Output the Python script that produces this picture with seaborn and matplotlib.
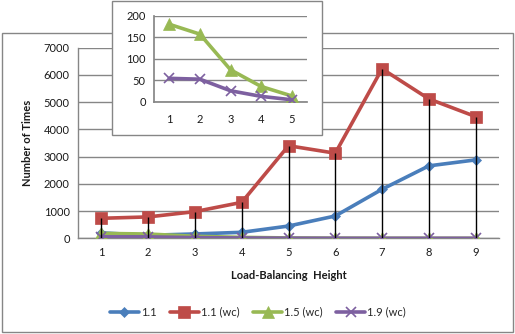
import matplotlib
matplotlib.use("Agg")
import matplotlib.pyplot as plt
import seaborn as sns
import pandas as pd
from matplotlib.patches import Rectangle

heights = [1, 2, 3, 4, 5, 6, 7, 8, 9]
s11 = [200, 110, 160, 220, 450, 820, 1800, 2660, 2880]
s11wc = [735, 785, 980, 1320, 3400, 3125, 6225, 5120, 4470]
s15wc = [180, 157, 74, 35, 13, 5, 2, 0, 0]
s19wc = [54, 52, 25, 12, 4, 1, 0, 0, 0]
series_names = ["1.1", "1.1 (wc)", "1.5 (wc)", "1.9 (wc)"]
inset_x = [1, 2, 3, 4, 5]
main_yticks = [0, 1000, 2000, 3000, 4000, 5000, 6000, 7000]
inset_yticks = [0, 50, 100, 150, 200]

colors = ["#4A7EBB", "#BE4B48", "#98B954", "#7D60A0"]
markers = ["D", "s", "^", "x"]
msizes = [5, 8, 8, 7]
grid_c = "#868686"
txt_c = "#1a1a1a"

sns.set_theme(style="white")
plt.rcParams["font.family"] = ["Lato", "DejaVu Sans"]

fig = plt.figure(figsize=(5.15, 3.34), dpi=100)
fig.patch.set_facecolor("white")
fig.patches.append(Rectangle((2/515, 1-332/334), 511/515, 299/334, transform=fig.transFigure,
                             facecolor="none", edgecolor=grid_c, lw=1, zorder=0.5))

ax = fig.add_axes([78/515, 1-238.3/334, 421/515, 190.6/334], zorder=0)
all_series = [s11, s11wc, s15wc, s19wc]
for vals, name, c, m, ms in zip(all_series, series_names, colors, markers, msizes):
    df = pd.DataFrame({"h": heights, "v": vals})
    sns.lineplot(data=df, x="h", y="v", ax=ax, color=c, marker=m, markersize=ms,
                 markeredgecolor=c, markeredgewidth=1.2 if m == "x" else 0.5,
                 linewidth=2.6, label=name, legend=False, zorder=3)
ax.vlines(heights, 0, s11wc, colors="black", linewidth=1, zorder=5)
ax.set_xlim(0.5, 9.5)
ax.set_ylim(0, 7000)
ax.set_xticks(heights)
ax.set_yticks(main_yticks)
ax.tick_params(axis="both", length=0, labelsize=8, colors=txt_c, pad=6)
ax.yaxis.grid(True, color=grid_c, lw=1)
ax.set_axisbelow(True)
for s in ["top", "right"]:
    ax.spines[s].set_visible(False)
for s in ["left", "bottom"]:
    ax.spines[s].set_color(grid_c)
    ax.spines[s].set_linewidth(1)
ax.set_xlabel("Load-Balancing  Height", fontsize=8, fontweight="bold", color=txt_c, labelpad=9)
ax.set_ylabel("Number of Times", fontsize=8, fontweight="bold", color=txt_c, labelpad=8)

handles, labels = ax.get_legend_handles_labels()
fig.legend(handles, labels, loc="center", bbox_to_anchor=(258/515, 1-312/334), ncol=4,
           frameon=False, fontsize=8, handlelength=2.6, columnspacing=1.2, handletextpad=0.2)

# inset frame
fig.patches.append(Rectangle((112/515, 1-135/334), 210/515, 134/334, transform=fig.transFigure,
                             facecolor="white", edgecolor=grid_c, lw=1, zorder=1))
ax2 = fig.add_axes([154/515, 1-101.5/334, 153/515, 85.8/334], zorder=2)
ax2.patch.set_alpha(0)
for vals, c, m, ms in zip([s15wc[:5], s19wc[:5]], colors[2:], markers[2:], msizes[2:]):
    df = pd.DataFrame({"h": inset_x, "v": vals})
    sns.lineplot(data=df, x="h", y="v", ax=ax2, color=c, marker=m, markersize=ms,
                 markeredgecolor=c, markeredgewidth=1.2 if m == "x" else 0.5,
                 linewidth=2.6, legend=False, zorder=3)
ax2.set_xlim(0.5, 5.5)
ax2.set_ylim(0, 200)
ax2.set_xticks(inset_x)
ax2.set_xticks([0.5 + i for i in range(6)], minor=True)
ax2.set_yticks(inset_yticks)
ax2.tick_params(axis="x", which="major", length=0, labelsize=8, colors=txt_c, pad=9)
ax2.tick_params(axis="x", which="minor", length=4, color=grid_c, direction="out")
ax2.tick_params(axis="y", length=0, labelsize=8, colors=txt_c, pad=6)
ax2.yaxis.grid(True, color=grid_c, lw=1)
ax2.set_axisbelow(True)
ax2.set_xlabel("")
ax2.set_ylabel("")
for s in ["top", "right"]:
    ax2.spines[s].set_visible(False)
for s in ["left", "bottom"]:
    ax2.spines[s].set_color(grid_c)

fig.savefig("out.png", dpi=100, facecolor="white")
